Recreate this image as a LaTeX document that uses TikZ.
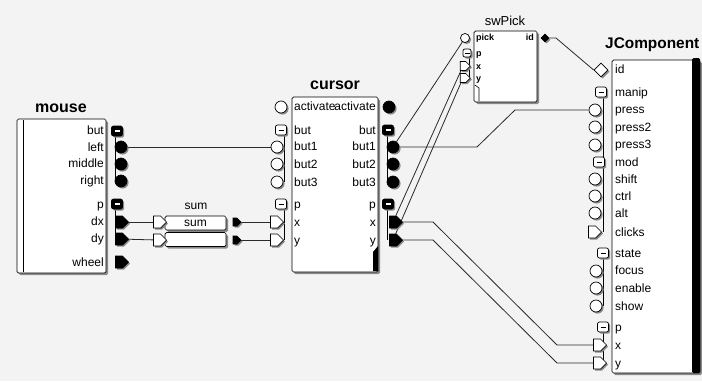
\documentclass[tikz,border=0pt]{standalone}
\usepackage{fontspec}
\setmainfont{Liberation Sans}
\usetikzlibrary{shapes.geometric,shapes.symbols,shadows}
\definecolor{bgc}{HTML}{F3F3F3}
\definecolor{shd}{HTML}{8A8A8A}
\definecolor{wire}{HTML}{2A2A2A}
\pgfdeclarelayer{back}
\pgfdeclarelayer{wires}
\pgfsetlayers{back,wires,main}
\begin{document}
\begin{tikzpicture}[x=1pt,y=-1pt,
  lbl/.style={font=\fontsize{12}{12}\selectfont, inner sep=0pt, text height=8.6pt, text depth=0pt},
  slbl/.style={font=\fontsize{9}{9}\selectfont\bfseries, inner sep=0pt, text height=6.5pt, text depth=0pt},
  ttl/.style={font=\fontsize{16}{16}\selectfont\bfseries, inner sep=0pt},
  box/.style={draw=black, fill=white, rounded corners=1.5pt, line width=0.7pt,
    drop shadow={shadow xshift=2pt, shadow yshift=-2pt, fill=shd, opacity=1}},
  psh/.style={drop shadow={shadow xshift=1.6pt, shadow yshift=-1.6pt, fill=shd, opacity=1}},
  pc/.style={circle, draw=black, line width=0.7pt, fill=white, minimum size=12pt, inner sep=0pt, psh},
  pcb/.style={pc, fill=black},
  pbase/.style={rectangle, rounded corners=2pt, draw=black, line width=0.7pt, minimum width=11pt, minimum height=10pt, inner sep=0pt, psh},
  pmin/.style={pbase, fill=white, path picture={\draw[black,line width=0.9pt]
     ([xshift=-2.5pt]path picture bounding box.center) -- ([xshift=2.5pt]path picture bounding box.center);}},
  pminb/.style={pbase, fill=black, path picture={\draw[white,line width=1.1pt]
     ([xshift=-2.5pt]path picture bounding box.center) -- ([xshift=2.5pt]path picture bounding box.center);}},
  psig/.style={signal, signal to=east, draw=black, line width=0.7pt, fill=white, minimum width=13pt, minimum height=12pt, inner sep=0pt, psh},
  psigb/.style={psig, fill=black},
  pdia/.style={diamond, draw=black, line width=0.7pt, fill=white, minimum size=14pt, inner sep=0pt, psh},
  conn/.style={draw=wire, line width=0.8pt},
  bus/.style={draw=black, line width=0.8pt}
]
\begin{pgfonlayer}{back}
\useasboundingbox (0,0) rectangle (702,381);
\fill[bgc] (0,0) rectangle (702,381);
\end{pgfonlayer}
\clip (0,0) rectangle (702,381);

% ---------------- mouse ----------------
\node[ttl] (tmouse) at (61,108) {mouse};
\draw[box] (17,119) rectangle (106,273);
\draw[line width=0.6pt] (23,120) -- (23,272);
\foreach \t/\y [count=\i] in {but/130,left/147,middle/163,right/180,p/204,dx/221,dy/238,wheel/262}
  \node[lbl, anchor=east] (ml\i) at (104,\y) {\t};
\draw[bus] (115,131) -- (115,180);
\draw[bus] (115,204) -- (115,239);
\node[pminb] (mbut) at (117,131) {};
\node[pcb] (mleft) at (121,147) {};
\node[pcb] (mmid) at (121,164) {};
\node[pcb] (mright) at (121,181) {};
\node[pminb] (mp) at (117,204) {};
\node[psigb] (mdx) at (119,222) {};
\node[psigb] (mdy) at (119,239) {};
\node[psigb] (mwheel) at (119,262) {};

% ---------------- sum ----------------
\node[lbl, font=\fontsize{12}{12}\selectfont] (tsum) at (196,205) {sum};
\node[box, minimum width=61pt, minimum height=14pt, inner sep=0pt, font=\fontsize{12}{12}\selectfont] (sbox1) at (195.5,223) {sum};
\node[box, minimum width=61pt, minimum height=14pt, inner sep=0pt] (sbox2) at (195.5,239.5) {};
\node[psig] (sin1) at (157,222) {};
\node[psig] (sin2) at (157,240) {};
\node[psigb, minimum width=8pt, minimum height=8pt] (sout1) at (235,222) {};
\node[psigb, minimum width=8pt, minimum height=8pt] (sout2) at (235,240) {};

% ---------------- cursor ----------------
\node[ttl] (tcursor) at (335,85) {cursor};
\draw[box] (292,97) rectangle (378,272);
\fill[black] (373,252) -- (378,246) -- (378,271) -- (373,271) -- cycle;
\foreach \t/\y [count=\i] in {activate/106,but/130,but1/146,but2/164,but3/182,p/204,x/222,y/240}{
  \node[lbl, anchor=west] (cl\i) at (294,\y) {\t};
  \node[lbl, anchor=east] (cr\i) at (376,\y) {\t};
}
\draw[bus] (284,130) -- (284,182);
\draw[bus] (284,204) -- (284,240);
\draw[bus] (387,130) -- (387,182);
\draw[bus] (387,204) -- (387,240);
\node[pc] (cact) at (281,107) {};
\node[pmin] (cbut) at (281,130) {};
\node[pc] (cb1) at (277,147) {};
\node[pc] (cb2) at (277,164) {};
\node[pc] (cb3) at (277,182) {};
\node[pmin] (cp) at (281,204) {};
\node[psig] (cx) at (274,222) {};
\node[psig] (cy) at (274,240) {};
\node[pcb] (cacto) at (389,107) {};
\node[pminb] (cbuto) at (388,130) {};
\node[pcb] (cb1o) at (393,147) {};
\node[pcb] (cb2o) at (393,164) {};
\node[pcb] (cb3o) at (393,182) {};
\node[pminb] (cpo) at (388,204) {};
\node[psigb] (cxo) at (393,222) {};
\node[psigb] (cyo) at (393,240) {};

% ---------------- swPick ----------------
\node[font=\fontsize{13}{13}\selectfont, inner sep=0pt] (tsw) at (505,21) {swPick};
\draw[box] (474,31) rectangle (537,102);
\draw[line width=0.6pt] (475,85) -- (479,88) -- (479,101);
\foreach \t/\y [count=\i] in {pick/37,p/53,x/66,y/78}
  \node[slbl, anchor=west] (sl\i) at (476,\y) {\t};
\node[slbl, anchor=east] (slid) at (534,37) {id};
\draw[bus] (469,53) -- (469,78);
\node[pc, minimum size=9pt] (spick) at (465,38) {};
\node[pmin, minimum width=8pt, minimum height=8pt] (sp) at (467,53) {};
\node[psig, minimum width=10pt, minimum height=9pt] (sx) at (463,66) {};
\node[psig, minimum width=10pt, minimum height=9pt] (sy) at (463,78) {};
\node[pdia, fill=black, minimum size=8pt] (sid) at (545,38) {};

% ---------------- JComponent ----------------
\node[ttl, font=\fontsize{15.4}{15.4}\selectfont\bfseries, anchor=west] (tjc) at (605,45) {JComponent};
\draw[box] (612,60) rectangle (700,373);
\fill[black, rounded corners=1.5pt] (692,58) rectangle (700,373);
\foreach \t/\y [count=\i] in {id/69,manip/92,press/109,press2/127,press3/144,mod/162,shift/179,ctrl/196,alt/213,clicks/232,state/253,focus/270,enable/288,show/306,p/327,x/345,y/363}
  \node[lbl, anchor=west] (jl\i) at (615,\y) {\t};
\draw[bus] (603,92) -- (603,232);
\draw[bus] (603,253) -- (603,306);
\draw[bus] (603,327) -- (603,363);
\node[pdia] (jid) at (601,70) {};
\node[pmin] (jmanip) at (601,92) {};
\node[pc] (jpress) at (595,110) {};
\node[pc] (jpress2) at (595,127) {};
\node[pc] (jpress3) at (595,145) {};
\node[pmin] (jmod) at (599,162) {};
\node[pc] (jshift) at (595,179) {};
\node[pc] (jctrl) at (595,196) {};
\node[pc] (jalt) at (595,213) {};
\node[psig] (jclicks) at (592,232) {};
\node[pmin] (jstate) at (603,253) {};
\node[pc] (jfocus) at (596,271) {};
\node[pc] (jenable) at (596,288) {};
\node[pc] (jshow) at (596,306) {};
\node[pmin] (jp) at (603,327) {};
\node[psig] (jx) at (597,345) {};
\node[psig] (jy) at (597,363) {};

% ---------------- connectors ----------------
\coordinate (k1) at (477,147);
\coordinate (k2) at (515,110);
\coordinate (k3) at (433,222);
\coordinate (k4) at (557,345);
\coordinate (k5) at (433,240);
\coordinate (k6) at (557,363);
\coordinate (k7) at (556,38);
\begin{pgfonlayer}{wires}
\draw[conn] (mleft) -- (cb1);
\draw[conn] (mdx) -- (sin1);
\draw[conn] (mdy) -- (sin2);
\draw[conn] (sout1) -- (cx);
\draw[conn] (sout2) -- (cy);
\draw[conn] (cb1o) -- (k1) -- (k2) -- (jpress);
\draw[conn] (cb1o) -- (spick);
\draw[conn] (cxo) -- (sx);
\draw[conn] (cyo) -- (sy);
\draw[conn] (cxo) -- (k3) -- (k4) -- (jx);
\draw[conn] (cyo) -- (k5) -- (k6) -- (jy);
\draw[conn] (sid) -- (k7) -- (jid.west);
\end{pgfonlayer}
\end{tikzpicture}
\end{document}
